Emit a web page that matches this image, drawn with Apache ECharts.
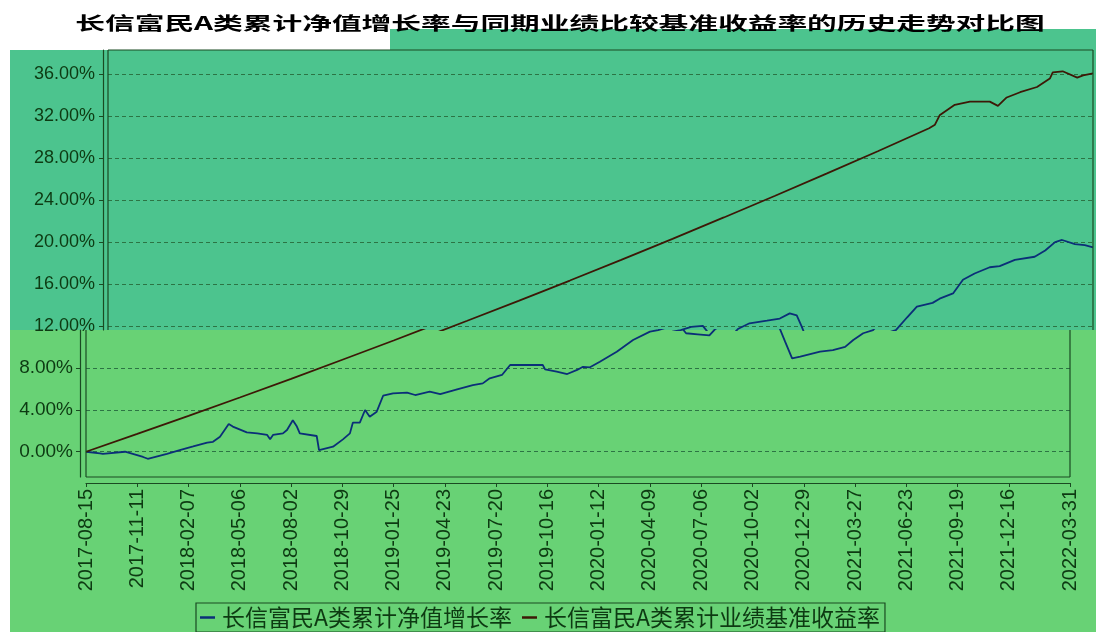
<!DOCTYPE html>
<html><head><meta charset="utf-8">
<script src="https://cdn.jsdelivr.net/npm/echarts@6/dist/echarts.min.js"></script>
<style>html,body{margin:0;padding:0;background:#fff}#c{width:1096px;height:632px}</style>
</head><body><div id="c"></div>
<script>
const chartTitle = '长信富民A类累计净值增长率与同期业绩比较基准收益率的历史走势对比图';
const seriesNames = ['长信富民A类累计净值增长率', '长信富民A类累计业绩基准收益率'];
const xTickLabels = ['2017-08-15','2017-11-11','2018-02-07','2018-05-06','2018-08-02','2018-10-29','2019-01-25','2019-04-23','2019-07-20','2019-10-16','2020-01-12','2020-04-09','2020-07-06','2020-10-02','2020-12-29','2021-03-27','2021-06-23','2021-09-19','2021-12-16','2022-03-31'];
const yTicksUpper = [12, 16, 20, 24, 28, 32, 36];
const yTicksLower = [0, 4, 8];

const navDates = ['2017-08-15','2017-09-08','2017-09-13','2017-10-21','2017-11-21','2017-11-29','2018-01-01','2018-01-23','2018-02-15','2018-03-11','2018-03-21','2018-04-02','2018-04-17','2018-04-24','2018-05-18','2018-06-05','2018-06-22','2018-06-27','2018-07-02','2018-07-19','2018-07-26','2018-08-05','2018-08-12','2018-08-17','2018-09-15','2018-09-19','2018-10-13','2018-10-30','2018-11-11','2018-11-16','2018-11-28','2018-12-07','2018-12-15','2018-12-27','2019-01-07','2019-01-24','2019-02-17','2019-03-03','2019-03-28','2019-04-15','2019-05-14','2019-06-10','2019-06-27','2019-07-09','2019-07-30','2019-08-13','2019-09-16','2019-10-08','2019-10-12','2019-11-01','2019-11-19','2019-12-06','2019-12-16','2019-12-28','2020-01-14','2020-02-12','2020-03-11','2020-04-09','2020-04-23','2020-05-11','2020-05-31','2020-06-10','2020-06-30','2020-07-20','2020-07-30','2020-08-19','2020-09-18','2020-10-10','2020-10-27','2020-11-08','2020-11-16','2020-11-27','2020-12-09','2020-12-23','2021-01-26','2021-02-17','2021-03-10','2021-03-24','2021-04-10','2021-04-27','2021-05-16','2021-06-02','2021-06-29','2021-07-11','2021-08-03','2021-08-20','2021-09-09','2021-10-05','2021-10-22','2021-11-17','2021-12-21','2022-01-08','2022-01-25','2022-02-06','2022-02-28','2022-03-17','2022-03-31'];
const navValues = [0.00,-0.15,-0.20,0.00,-0.50,-0.67,-0.20,0.16,0.50,0.86,0.95,1.43,2.64,2.40,1.85,1.75,1.60,1.20,1.60,1.75,2.07,3.00,2.40,1.75,1.50,0.16,0.48,1.18,1.75,2.77,2.77,3.98,3.34,3.82,5.34,5.57,5.63,5.41,5.73,5.50,5.95,6.36,6.52,7.00,7.32,8.27,8.27,8.27,7.86,7.63,7.41,7.80,8.10,8.05,8.59,9.54,10.66,11.45,11.60,11.90,12.00,11.30,11.20,11.10,11.70,12.25,12.50,12.70,13.20,13.00,12.00,10.50,8.90,9.06,9.54,9.70,10.00,10.66,11.30,11.60,12.80,13.85,14.20,14.60,15.10,16.40,17.00,17.60,17.70,18.30,18.60,19.20,20.00,20.20,19.80,19.70,19.50];

const benchDates = ['2017-08-15','2017-11-11','2018-02-07','2018-05-06','2018-08-02','2018-10-29','2019-01-25','2019-04-23','2019-07-20','2019-10-16','2020-01-12','2020-04-09','2020-07-06','2020-10-02','2020-12-29','2021-03-27','2021-06-23','2021-07-03','2021-07-11','2021-08-06','2021-09-01','2021-10-05','2021-10-19','2021-11-03','2021-11-26','2021-12-25','2022-01-16','2022-01-21','2022-02-07','2022-03-04','2022-03-14','2022-03-31'];
const benchValues = [0.00,1.70,3.42,5.17,6.95,8.77,10.61,12.49,14.39,16.33,18.30,20.31,22.35,24.42,26.53,28.67,30.86,31.20,32.10,33.10,33.40,33.40,33.00,33.80,34.30,34.80,35.60,36.20,36.30,35.70,35.90,36.10];

// ---- styling / layout ----
const COL_NAV = '#0b2f78';
const COL_BENCH = '#3d1806';
const COL_TEXT = '#0d3a12';
const COL_GRIDLINE = '#2c7444';
const COL_BORDER = '#1a4a22';
const BG_TOP = '#4cc48e';
const BG_BOTTOM = '#68d275';

const W = 1096, H = 632;
const splitY = 330;
const up = { left: 108, width: 985, top: 50 };
const lo = { left: 86, width: 984, bottom: 477 };
const upMin = 11.61, upMax = 38.33, loMin = -2.41, loMax = 11.61;

// dates -> day index (UTC, so no timezone drift)
const DAY = 86400000;
const toUTC = s => { const p = s.split('-').map(Number); return Date.UTC(p[0], p[1] - 1, p[2]); };
const t0 = toUTC(xTickLabels[0]);
const dayIdx = s => Math.round((toUTC(s) - t0) / DAY);
const idxToDate = i => new Date(t0 + Math.round(i) * DAY).toISOString().slice(0, 10);

const xTickIdx = xTickLabels.map(dayIdx);
const xMin = xTickIdx[0], xMax = xTickIdx[xTickIdx.length - 1];
const pct = v => v.toFixed(2) + '%';
const navData = navDates.map((d, i) => [dayIdx(d), navValues[i]]);
const benchData = benchDates.map((d, i) => [dayIdx(d), benchValues[i]]);

const chart = echarts.init(document.getElementById('c'), null, { renderer: 'canvas' });
const axisFont = { color: COL_TEXT, fontFamily: '"Liberation Sans", Arial, sans-serif' };

function lineSeries(name, data, color, idx) {
  return {
    name, type: 'line', data, xAxisIndex: idx, yAxisIndex: idx,
    showSymbol: false, symbol: 'none', clip: true, animation: false,
    lineStyle: { color, width: 1.8 }, itemStyle: { color }, z: 3
  };
}
function vline(x, y1, y2) {
  return { type: 'line', silent: true, z: 5, shape: { x1: x, y1, x2: x, y2 }, style: { stroke: COL_BORDER, lineWidth: 1.2 } };
}
function hline(y, x1, x2) {
  return { type: 'line', silent: true, z: 5, shape: { x1, y1: y, x2, y2: y }, style: { stroke: COL_BORDER, lineWidth: 1.2 } };
}

const option = {
  backgroundColor: '#ffffff',
  animation: false,
  grid: [
    { left: up.left, width: up.width, top: up.top, height: splitY - up.top },
    { left: lo.left, width: lo.width, top: splitY, height: lo.bottom - splitY }
  ],
  xAxis: [
    { type: 'value', gridIndex: 0, min: xMin, max: xMax, show: false, splitLine: { show: false } },
    {
      type: 'value', gridIndex: 1, min: xMin, max: xMax, position: 'bottom', offset: 6,
      axisLine: { show: true, onZero: false, lineStyle: { color: COL_BORDER, width: 1.2 } },
      axisTick: { show: true, length: 4, customValues: xTickIdx, lineStyle: { color: COL_BORDER } },
      splitLine: { show: false },
      axisLabel: {
        customValues: xTickIdx, rotate: 90, fontSize: 20, margin: 6, ...axisFont,
        formatter: v => idxToDate(v)
      }
    }
  ],
  yAxis: [
    {
      type: 'value', gridIndex: 0, min: upMin, max: upMax, position: 'left', offset: 5,
      axisLine: { show: true, onZero: false, lineStyle: { color: COL_BORDER, width: 1.2 } },
      axisTick: { show: true, length: 4, customValues: yTicksUpper, lineStyle: { color: COL_BORDER } },
      axisLabel: { customValues: yTicksUpper, fontSize: 18, margin: 8, formatter: pct, ...axisFont },
      splitLine: { show: true, lineStyle: { color: COL_GRIDLINE, type: [4, 3], width: 1 } }
    },
    {
      type: 'value', gridIndex: 1, min: loMin, max: loMax, position: 'left', offset: 6,
      axisLine: { show: true, onZero: false, lineStyle: { color: COL_BORDER, width: 1.2 } },
      axisTick: { show: true, length: 4, customValues: yTicksLower, lineStyle: { color: COL_BORDER } },
      axisLabel: { customValues: yTicksLower, fontSize: 19, margin: 7, formatter: pct, ...axisFont },
      splitLine: { show: true, lineStyle: { color: COL_GRIDLINE, type: [4, 3], width: 1 } }
    }
  ],
  legend: {
    data: seriesNames,
    left: 196, top: 603,
    orient: 'horizontal',
    icon: 'rect', itemWidth: 15, itemHeight: 2.5, itemGap: 10,
    padding: [3, 5, 3, 4],
    borderColor: COL_BORDER, borderWidth: 1.2,
    textStyle: { color: COL_TEXT, fontSize: 23, padding: [0, 0, 0, 2], fontFamily: '"Noto Sans CJK SC", sans-serif' }
  },
  graphic: [
    { type: 'polygon', silent: true, z: -10, shape: { points: [[10, 50], [390, 50], [390, 29], [W, 29], [W, splitY], [10, splitY]] }, style: { fill: BG_TOP } },
    { type: 'rect', silent: true, z: -10, shape: { x: 10, y: splitY, width: W - 10, height: H - splitY }, style: { fill: BG_BOTTOM } },
    vline(up.left, up.top, splitY), hline(up.top, up.left, up.left + up.width), vline(up.left + up.width, up.top, splitY),
    vline(lo.left, splitY, lo.bottom), hline(lo.bottom, lo.left, lo.left + lo.width), vline(lo.left + lo.width, splitY, lo.bottom),
    {
      type: 'text', x: 560, y: 23, scaleX: 1.65, z: 10,
      style: { text: chartTitle, font: 'bold 18px "Noto Sans CJK SC", sans-serif', fill: '#000', align: 'center', verticalAlign: 'middle' }
    }
  ],
  series: [
    lineSeries(seriesNames[0], navData, COL_NAV, 0),
    lineSeries(seriesNames[1], benchData, COL_BENCH, 0),
    lineSeries(seriesNames[0], navData, COL_NAV, 1),
    lineSeries(seriesNames[1], benchData, COL_BENCH, 1)
  ]
};
chart.setOption(option);
</script>
</body></html>
